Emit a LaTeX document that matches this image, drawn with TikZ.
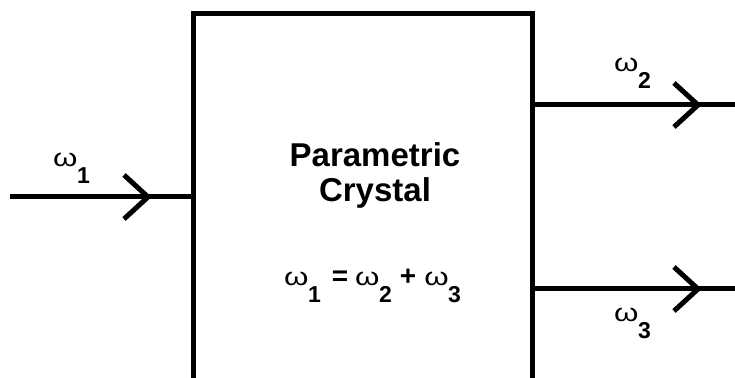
\documentclass[tikz,border=0pt]{standalone}
\usepackage{fontspec}
\setmainfont{Liberation Sans}
\usetikzlibrary{calc}
\newcommand{\om}[1]{{\fontsize{25}{27}\selectfont\scalebox{1.25}[1]{ω}}\kern-0.5pt\raisebox{-17pt}{\bfseries\fontsize{23}{25}\selectfont #1}}
\begin{document}
\begin{tikzpicture}[x=1pt,y=1pt,
  wire/.style={line width=5pt,draw=black},
  chev/.style={line width=5pt,draw=black,line join=miter},
  lbl/.style={inner sep=0pt,anchor=base west},
  ttl/.style={inner sep=0pt,anchor=base,font=\bfseries\fontsize{33}{36}\selectfont}]
\useasboundingbox (0,0) rectangle (735,377);
\clip (0,0) rectangle (735,377);
% box (open at the bottom)
\coordinate (bl) at (193,-10);
\coordinate (tl) at (193,363);
\coordinate (tr) at (532,363);
\coordinate (br) at (532,-10);
\draw[wire,line join=miter] (bl) -- (tl) -- (tr) -- (br);
% input
\coordinate (in0) at (10,180);
\coordinate (in1) at (193,180);
\draw[wire] (in0) -- (in1);
\coordinate (t1) at (148,180);
\draw[chev] ($(t1)+(-24,22)$) -- (t1) -- ($(t1)+(-24,-22)$);
% outputs
\coordinate (o2a) at (532,272);
\coordinate (o2b) at (740,272);
\draw[wire] (o2a) -- (o2b);
\coordinate (t2) at (698,272);
\draw[chev] ($(t2)+(-24,22)$) -- (t2) -- ($(t2)+(-24,-22)$);
\coordinate (o3a) at (532,88);
\coordinate (o3b) at (740,88);
\draw[wire] (o3a) -- (o3b);
\coordinate (t3) at (698,88);
\draw[chev] ($(t3)+(-24,22)$) -- (t3) -- ($(t3)+(-24,-22)$);
% labels
\node[lbl] (w1) at (53,210) {\om{1}};
\node[lbl] (w2) at (614,305) {\om{2}};
\node[lbl] (w3) at (614,55) {\om{3}};
\node[ttl] (title1) at (375,210) {Parametric};
\node[ttl] (title2) at (375,175) {Crystal};
\node[lbl] (eq) at (284,91) {\om{1}\hspace{11pt}{\bfseries\fontsize{28}{30}\selectfont =}\hspace{7pt}\om{2}\hspace{8pt}{\bfseries\fontsize{28}{30}\selectfont +}\hspace{8pt}\om{3}};
\end{tikzpicture}
\end{document}
